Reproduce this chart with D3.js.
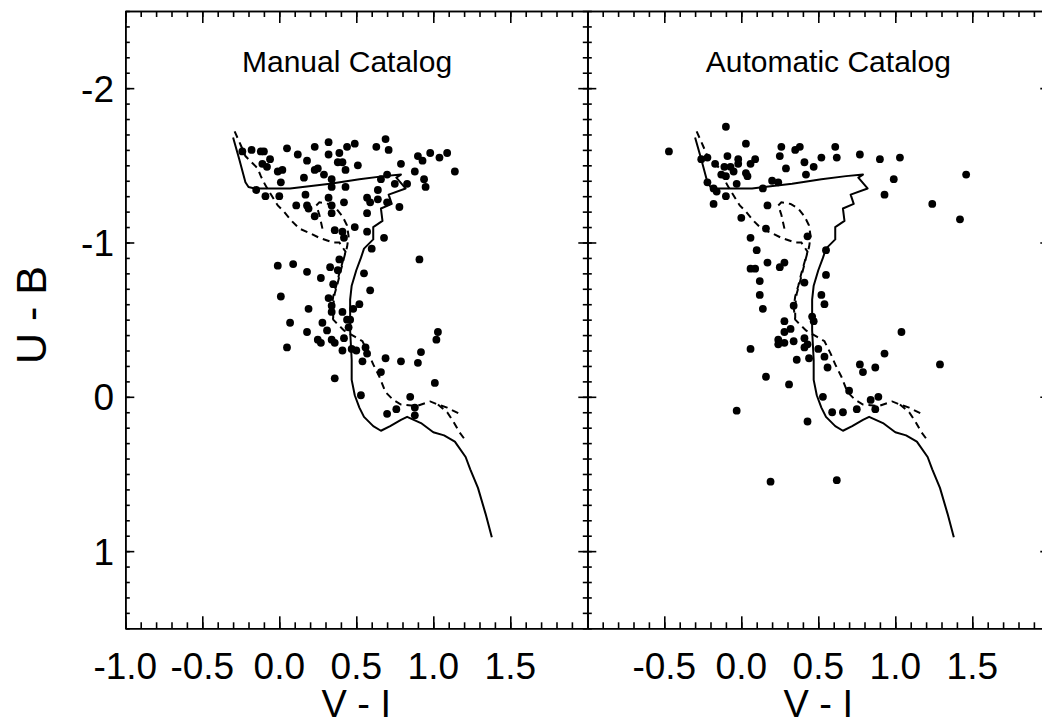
<!DOCTYPE html>
<html>
<head>
<meta charset="utf-8">
<script src="https://cdn.jsdelivr.net/npm/d3@7"></script>
<style>
  html, body { margin: 0; padding: 0; background: #fff; }
  svg { display: block; }
  text { font-family: "Liberation Sans", Arial, Helvetica, sans-serif; fill: #000; }
</style>
</head>
<body>
<script>
// ---------------- DATA ----------------
// Manual catalog (left panel)
const manualVI = [-0.24,-0.18,-0.12,-0.10,-0.06,-0.11,-0.08,0.05,0.12,0.23,0.32,0.18,0.32,0.39,0.44,0.49,0.63,0.69,0.71,0.38,
  0.41,0.25,0.23,0.29,0.43,0.51,-0.01,0.02,0.01,0.16,0.34,0.34,0.43,-0.15,-0.09,0.00,0.17,0.32,0.11,0.18,
  0.19,0.34,0.42,0.23,0.34,0.36,0.41,0.42,0.49,0.64,0.66,0.70,0.75,0.79,0.83,0.57,0.59,0.64,0.70,0.57,
  0.78,0.57,0.68,0.60,0.88,0.90,0.93,0.98,1.04,1.09,1.14,0.94,0.95,0.91,-0.01,0.09,0.18,0.27,0.33,0.38,
  0.39,0.35,0.55,0.59,0.01,0.32,0.19,0.34,0.34,0.41,0.48,0.52,0.44,0.46,0.45,0.07,0.28,0.31,0.18,0.25,
  0.27,0.34,0.36,0.42,0.05,0.41,0.47,0.50,0.56,0.57,0.54,0.69,0.79,0.90,0.92,1.03,1.02,0.66,0.36,1.01,
  0.53,0.85,0.70,0.76,0.88,0.88];
const manualUB = [-1.59,-1.60,-1.59,-1.59,-1.54,-1.51,-1.49,-1.61,-1.57,-1.62,-1.65,-1.53,-1.57,-1.58,-1.62,-1.64,-1.62,-1.67,-1.60,-1.52,
  -1.52,-1.48,-1.47,-1.44,-1.47,-1.50,-1.46,-1.47,-1.39,-1.42,-1.41,-1.36,-1.36,-1.34,-1.30,-1.30,-1.31,-1.29,-1.24,-1.24,
  -1.22,-1.24,-1.26,-1.17,-1.19,-1.08,-1.07,-1.03,-1.10,-1.34,-1.41,-1.44,-1.38,-1.51,-1.38,-1.29,-1.26,-1.28,-1.26,-1.19,
  -1.23,-1.07,-1.03,-0.96,-1.46,-1.56,-1.53,-1.58,-1.55,-1.58,-1.46,-1.41,-1.36,-0.89,-0.85,-0.86,-0.81,-0.77,-0.84,-0.82,
  -0.89,-0.73,-0.80,-0.69,-0.65,-0.64,-0.57,-0.59,-0.55,-0.55,-0.57,-0.60,-0.50,-0.50,-0.45,-0.48,-0.48,-0.43,-0.42,-0.37,
  -0.35,-0.37,-0.35,-0.38,-0.32,-0.30,-0.31,-0.30,-0.32,-0.28,-0.23,-0.25,-0.23,-0.22,-0.29,-0.42,-0.37,-0.16,-0.12,-0.09,
  -0.01,0.00,0.11,0.08,0.07,0.12];

// Automatic catalog (right panel)
const autoVI = [-0.47,-0.10,0.03,-0.26,-0.22,-0.17,-0.09,-0.02,-0.02,-0.11,-0.07,-0.05,-0.13,-0.10,0.03,0.04,0.06,0.09,-0.22,-0.18,
  -0.16,-0.10,-0.03,-0.18,0.14,0.20,0.24,0.25,0.26,0.35,0.38,0.29,0.41,0.42,0.47,0.52,0.61,0.62,0.77,0.90,
  1.03,0.99,0.93,1.24,1.42,1.46,0.17,0.00,0.16,0.43,0.06,0.10,0.17,0.25,0.28,0.06,0.09,0.12,0.55,0.55,
  0.41,0.12,0.52,0.54,0.34,0.14,0.46,0.47,0.28,0.32,0.28,0.24,0.24,0.28,0.34,0.41,0.41,0.43,0.50,0.54,
  0.56,0.36,0.44,0.06,0.16,0.31,-0.03,0.43,0.53,0.59,0.66,0.75,0.84,0.89,0.87,0.77,0.79,0.87,0.93,1.04,
  1.29,0.19,0.62,0.70];
const autoUB = [-1.59,-1.75,-1.64,-1.54,-1.55,-1.51,-1.56,-1.54,-1.51,-1.49,-1.49,-1.46,-1.44,-1.43,-1.45,-1.43,-1.51,-1.54,-1.39,-1.35,
  -1.33,-1.30,-1.38,-1.25,-1.35,-1.40,-1.39,-1.56,-1.62,-1.60,-1.62,-1.48,-1.52,-1.44,-1.49,-1.55,-1.62,-1.55,-1.57,-1.54,
  -1.55,-1.41,-1.31,-1.25,-1.15,-1.44,-1.24,-1.16,-1.09,-1.04,-1.03,-0.95,-0.87,-0.84,-0.87,-0.83,-0.83,-0.75,-0.95,-0.79,
  -0.74,-0.66,-0.66,-0.60,-0.59,-0.57,-0.52,-0.49,-0.49,-0.44,-0.42,-0.37,-0.34,-0.35,-0.36,-0.38,-0.32,-0.34,-0.31,-0.26,
  -0.19,-0.24,-0.25,-0.31,-0.13,-0.08,0.09,0.16,0.00,0.10,0.10,0.08,0.02,0.00,0.08,-0.21,-0.16,-0.19,-0.28,-0.42,
  -0.21,0.55,0.54,-0.04];

// Model isochrones (same in both panels)
const isoSolidVI = [-0.30,-0.26,-0.22,-0.20,-0.16,0.07,0.33,0.52,0.68,0.79,0.76,0.82,0.71,0.73,0.66,0.67,0.61,0.61,0.55,0.53,
  0.50,0.47,0.46,0.46,0.46,0.47,0.47,0.49,0.52,0.55,0.61,0.66,0.72,0.79,0.83,0.92,1.00,1.07,1.14,1.21,1.24,1.29,1.34,1.38];
const isoSolidUB = [-1.68,-1.54,-1.39,-1.36,-1.35,-1.35,-1.38,-1.41,-1.43,-1.44,-1.42,-1.35,-1.31,-1.25,-1.22,-1.14,-1.10,-1.02,-0.96,-0.90,
  -0.82,-0.72,-0.63,-0.50,-0.43,-0.24,-0.11,-0.01,0.07,0.13,0.19,0.22,0.19,0.15,0.13,0.17,0.23,0.25,0.29,0.39,0.47,0.59,0.76,0.91];

const isoDashAVI = [-0.29,-0.25,-0.22,-0.18,-0.14,-0.12,-0.09,-0.06,-0.01,0.03,0.08,0.13,0.20,0.26,0.35,0.39,0.43,0.41,0.39,0.37,
  0.35,0.34,0.35,0.42,0.49,0.54,0.58,0.61,0.65,0.69,0.74,0.79,0.89,0.98,1.03,1.09,1.19];
const isoDashAUB = [-1.72,-1.63,-1.56,-1.52,-1.48,-1.43,-1.37,-1.32,-1.24,-1.20,-1.14,-1.09,-1.06,-1.03,-1.00,-1.00,-0.94,-0.87,-0.80,-0.72,
  -0.65,-0.58,-0.50,-0.43,-0.39,-0.36,-0.28,-0.21,-0.13,-0.03,0.02,0.05,0.06,0.03,0.05,0.07,0.12];

const isoDashBVI = [0.28,0.26,0.24,0.26,0.32,0.37,0.41,0.44,0.45,0.44,0.42,0.40,0.38,0.36,0.35,0.35];
const isoDashBUB = [-1.09,-1.18,-1.24,-1.26,-1.25,-1.22,-1.17,-1.11,-1.04,-0.97,-0.90,-0.82,-0.74,-0.67,-0.59,-0.51];

const isoDashCVI = [1.03,1.09,1.13,1.17,1.20];
const isoDashCUB = [0.05,0.10,0.16,0.23,0.27];

// Tick labels
const manualXTicks = [-1.0,-0.5,0.0,0.5,1.0,1.5];
const autoXTicks = [-0.5,0.0,0.5,1.0,1.5];
const yTicks = [-2,-1,0,1];

const titles = ["Manual Catalog", "Automatic Catalog"];
const xTitle = "V - I";
const yTitle = "U - B";

// ---------------- LAYOUT ----------------
const W = 1042, H = 724;
const panelW = 462;
const left0 = 125.3;
const yTopPx = 11, yBotPx = 628.3;
const xDomain = [-1, 2], yDomain = [-2.5, 1.5];

const svg = d3.select("body").append("svg").attr("width", W).attr("height", H);
svg.append("rect").attr("width", W).attr("height", H).attr("fill", "#fff");

const y = d3.scaleLinear().domain(yDomain).range([yTopPx, yBotPx]);

const xMajor = d3.range(-2, 5).map(i => i / 2);
const xMinor = d3.range(-10, 21).map(i => i / 10);
const yMajor = d3.range(-2, 2);
const yMinor = d3.range(-25, 16).map(i => i / 10);

function styleAxis(g) {
  g.selectAll("path.domain").attr("stroke", "#000").attr("stroke-width", 1.6);
  g.selectAll(".tick line").attr("stroke", "#000").attr("stroke-width", 1.6);
  g.selectAll(".tick text").remove();
}

const lineGen = x => d3.line().x(d => x(d[0])).y(d => y(d[1]));
const zip = (a, b) => a.map((v, i) => [v, b[i]]);

function drawPanel(idx, vi, ub, xTicks, titleAt) {
  const x0 = left0 + idx * panelW;
  const x = d3.scaleLinear().domain(xDomain).range([x0, x0 + panelW]);
  const g = svg.append("g");

  // axes (ticks pointing inward)
  const axes = [
    [() => d3.axisBottom(x), `translate(0,${yBotPx})`, xMinor, xMajor, 6, 12],
    [() => d3.axisTop(x), `translate(0,${yTopPx})`, xMinor, xMajor, 6, 12],
    [() => d3.axisLeft(y), `translate(${x0},0)`, yMinor, yMajor, 4.5, 9],
    [() => d3.axisRight(y), `translate(${x0 + panelW},0)`, yMinor, yMajor, 4.5, 9]
  ];
  axes.forEach(([mk, tr, minor, major, sMin, sMaj]) => {
    g.append("g").attr("transform", tr)
      .call(mk().tickValues(minor).tickSize(-sMin).tickSizeOuter(0).tickFormat(""))
      .call(styleAxis);
    g.append("g").attr("transform", tr)
      .call(mk().tickValues(major).tickSize(-sMaj).tickSizeOuter(0).tickFormat(""))
      .call(styleAxis);
  });

  // x tick labels
  g.selectAll("text.xt").data(xTicks).enter().append("text")
    .attr("class", "xt")
    .attr("x", d => x(d)).attr("y", 678.5)
    .attr("text-anchor", "middle").attr("font-size", 37)
    .text(d => d.toFixed(1));

  // x title
  g.append("text").attr("x", x0 + panelW / 2).attr("y", 717)
    .attr("text-anchor", "middle").attr("font-size", 38).text(xTitle);

  // panel title
  g.append("text").attr("x", x(titleAt)).attr("y", 72)
    .attr("text-anchor", "middle").attr("font-size", 30).text(titles[idx]);

  // isochrones
  const lg = lineGen(x);
  g.append("path").datum(zip(isoSolidVI, isoSolidUB)).attr("d", lg)
    .attr("fill", "none").attr("stroke", "#000").attr("stroke-width", 2).attr("stroke-linejoin", "round");
  [[isoDashAVI, isoDashAUB], [isoDashBVI, isoDashBUB], [isoDashCVI, isoDashCUB]].forEach(([a, b]) => {
    g.append("path").datum(zip(a, b)).attr("d", lg)
      .attr("fill", "none").attr("stroke", "#000").attr("stroke-width", 2)
      .attr("stroke-dasharray", "7,5");
  });

  // points
  g.selectAll("circle.pt").data(zip(vi, ub)).enter().append("circle")
    .attr("class", "pt")
    .attr("cx", d => x(d[0])).attr("cy", d => y(d[1])).attr("r", 3.9)
    .attr("fill", "#000");
}

drawPanel(0, manualVI, manualUB, manualXTicks, 0.44);
drawPanel(1, autoVI, autoUB, autoXTicks, 0.565);

// y tick labels
svg.selectAll("text.yt").data(yTicks).enter().append("text")
  .attr("class", "yt")
  .attr("x", 114).attr("y", d => y(d) + 13.5)
  .attr("text-anchor", "end").attr("font-size", 37)
  .text(d => String(d));

// y title
svg.append("text")
  .attr("transform", `translate(46,315) rotate(-90)`)
  .attr("text-anchor", "middle").attr("font-size", 43).text(yTitle);
</script>
</body>
</html>
